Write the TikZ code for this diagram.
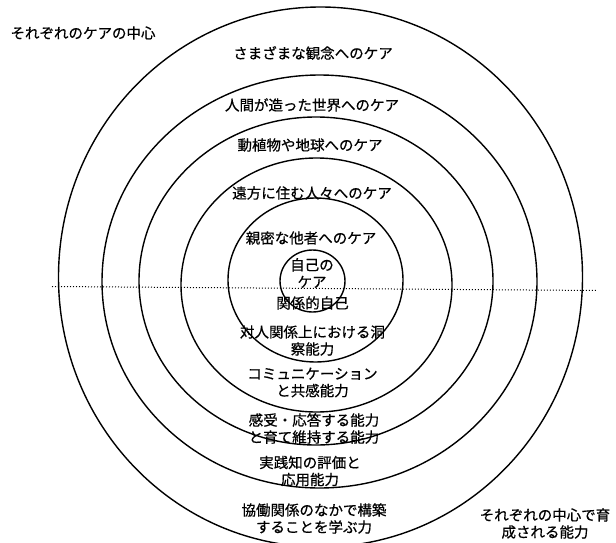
\documentclass[tikz,border=0pt]{standalone}
\usepackage{fontspec}
\newfontfamily\jpfont[FakeBold=0.6]{Noto Sans CJK JP}
\begin{document}
\begin{tikzpicture}[x=1pt,y=-1pt,
  ring/.style={line width=1.4pt, draw=black},
  lbl/.style={font=\jpfont\fontsize{14.5}{17}\selectfont, align=center, inner sep=0pt, text=black},
  dotline/.style={line width=1pt, dash pattern=on 1pt off 2pt}]
\useasboundingbox (0,0) rectangle (616,543);
\begin{scope}
\clip (0,0) rectangle (616,543);
\draw[ring] (312.5,281) ellipse [x radius=32.5pt, y radius=31pt];
\draw[ring] (315.5,280) ellipse [x radius=87.5pt, y radius=82pt];
\draw[ring] (316.5,285) ellipse [x radius=135.5pt, y radius=127pt];
\draw[ring] (316,281) ellipse [x radius=177pt, y radius=164pt];
\draw[ring] (319.5,281.5) ellipse [x radius=217.5pt, y radius=206.5pt];
\draw[ring] (320.5,277) ellipse [x radius=262pt, y radius=270pt];
\end{scope}
\coordinate (dl) at (52,286.5);
\coordinate (dr) at (597,290.5);
\draw[dotline] (dl) -- (dr);

\node[lbl] (c0) at (83,33) {それぞれのケアの中心};
\node[lbl] (c1) at (313,53) {さまざまな観念へのケア};
\node[lbl] (c2) at (312,105) {人間が造った世界へのケア};
\node[lbl] (c3) at (310,145) {動植物や地球へのケア};
\node[lbl] (c4) at (312,193) {遠方に住む人々へのケア};
\node[lbl] (c5) at (311,238) {親密な他者へのケア};
\node[lbl] (c6) at (312,273) {自己の\\ケア};
\node[lbl] (a1) at (312.5,303) {関係的自己};
\node[lbl] (a2) at (312.5,340.5) {対人関係上における洞\\察能力};
\node[lbl] (a3) at (312.5,382.5) {コミュニケーション\\と共感能力};
\node[lbl] (a4) at (314,428.5) {感受・応答する能力\\と育て維持する能力};
\node[lbl] (a5) at (310,471) {実践知の評価と\\応用能力};
\node[lbl] (a6) at (314,518.5) {協働関係のなかで構築\\することを学ぶ力};
\node[lbl] (a0) at (545,523.5) {それぞれの中心で育\\成される能力};
\end{tikzpicture}
\end{document}
